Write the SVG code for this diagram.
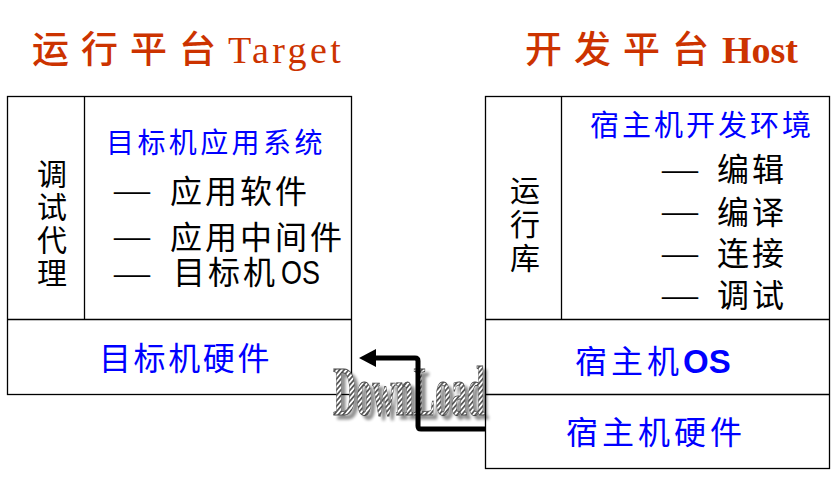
<svg xmlns="http://www.w3.org/2000/svg" width="834" height="488" viewBox="0 0 834 488">
<style>
.box{fill:none;stroke:#000;stroke-width:1.3}
.ttl{font-family:"Noto Sans CJK SC","Noto Sans",sans-serif;fill:#CC3300;font-weight:500}
.lat{font-family:"Liberation Serif",serif;fill:#CC3300}
.cjk{font-family:"Noto Sans CJK SC",sans-serif;fill:#000;font-size:32px;letter-spacing:3px}
.blue{font-family:"Noto Sans CJK SC",sans-serif;fill:#0000FF}
.dash{font-family:"Liberation Serif",serif;font-size:36px;fill:#000}
.vert{font-family:"Noto Sans CJK SC",sans-serif;font-size:30px;fill:#000;text-anchor:middle}
.conn{fill:none;stroke:#000;stroke-width:5;stroke-linejoin:round}
.dl{font-family:"Liberation Serif",serif;font-size:70px}
</style>
<defs>
<pattern id="hatch" patternUnits="userSpaceOnUse" width="3.5" height="3.5" patternTransform="rotate(40)">
<rect width="3.5" height="3.5" fill="#fff"/>
<rect width="1.7" height="3.5" fill="#555"/>
</pattern>
<filter id="shadow" x="-10%" y="-10%" width="125%" height="130%">
<feGaussianBlur in="SourceAlpha" stdDeviation="1.5" result="b"/>
<feOffset in="b" dx="4" dy="4" result="o"/>
<feComponentTransfer in="o" result="s"><feFuncA type="linear" slope="0.45"/></feComponentTransfer>
<feMerge><feMergeNode in="s"/><feMergeNode in="SourceGraphic"/></feMerge>
</filter>
<marker id="ah" markerUnits="userSpaceOnUse" markerWidth="18" markerHeight="18" refX="0" refY="9" orient="auto">
<path d="M0,0 L17,9 L0,18 z" fill="#000"/>
</marker>
</defs>
<g id="title-target">
<text y="63"><tspan class="ttl" x="32" font-size="37" letter-spacing="12">运行平台</tspan><tspan class="lat" x="228" font-size="38" letter-spacing="3.4">Target</tspan></text>
</g>
<g id="title-host">
<text y="63"><tspan class="ttl" x="525" font-size="37" letter-spacing="12">开发平台</tspan><tspan class="lat" x="722" font-size="38" font-weight="bold">Host</tspan></text>
</g>
<g id="target-box">
<rect class="box" x="7.5" y="96.5" width="344" height="298"/>
<line class="box" x1="84.5" y1="96.5" x2="84.5" y2="319.5"/>
<line class="box" x1="7.5" y1="319.5" x2="351.5" y2="319.5"/>
</g>
<g id="debug-agent">
<text class="vert" x="52" y="185">调</text>
<text class="vert" x="52" y="218">试</text>
<text class="vert" x="52" y="251">代</text>
<text class="vert" x="52" y="284">理</text>
</g>
<g id="target-app">
<text class="blue" x="106" y="153" font-size="28" letter-spacing="3.4">目标机应用系统</text>
<text><tspan class="dash" x="114" y="202">—</tspan><tspan class="cjk" x="170" y="203">应用软件</tspan></text>
<text><tspan class="dash" x="114" y="248">—</tspan><tspan class="cjk" x="170" y="249">应用中间件</tspan></text>
<text><tspan class="dash" x="114" y="285">—</tspan><tspan class="cjk" x="173" y="284" letter-spacing="4">目标机</tspan><tspan x="281" y="284" font-family="Liberation Sans,sans-serif" font-size="34" textLength="39" lengthAdjust="spacingAndGlyphs" fill="#000">OS</tspan></text>
</g>
<g id="target-hw">
<text class="blue" x="99" y="370" font-size="32" letter-spacing="2.6">目标机硬件</text>
</g>
<g id="host-box">
<rect class="box" x="485.5" y="96.5" width="344" height="372"/>
<line class="box" x1="561.5" y1="96.5" x2="561.5" y2="319.5"/>
<line class="box" x1="485.5" y1="319.5" x2="829.5" y2="319.5"/>
<line class="box" x1="485.5" y1="394.5" x2="829.5" y2="394.5"/>
</g>
<g id="runtime-lib">
<text class="vert" x="525" y="201">运</text>
<text class="vert" x="525" y="235">行</text>
<text class="vert" x="525" y="269">库</text>
</g>
<g id="host-dev">
<text class="blue" x="590" y="136" font-size="29" letter-spacing="3">宿主机开发环境</text>
<text><tspan class="dash" x="662" y="181">—</tspan><tspan class="cjk" x="717" y="181">编辑</tspan></text>
<text><tspan class="dash" x="662" y="223">—</tspan><tspan class="cjk" x="717" y="224">编译</tspan></text>
<text><tspan class="dash" x="662" y="265">—</tspan><tspan class="cjk" x="717" y="265">连接</tspan></text>
<text><tspan class="dash" x="662" y="307">—</tspan><tspan class="cjk" x="717" y="307">调试</tspan></text>
</g>
<g id="host-os">
<text x="575" y="373"><tspan class="blue" font-size="32" letter-spacing="4">宿主机</tspan><tspan x="683" font-family="Liberation Sans,sans-serif" font-weight="bold" font-size="33" fill="#0000FF">OS</tspan></text>
</g>
<g id="host-hw">
<text class="blue" x="566" y="444" font-size="32" letter-spacing="4">宿主机硬件</text>
</g>
<g id="download-label">
<text class="dl" x="333" y="415" textLength="152" lengthAdjust="spacingAndGlyphs" fill="url(#hatch)" stroke="#444" stroke-width="0.8" font-weight="bold" filter="url(#shadow)">DownLoad</text>
</g>
<g id="connectors">
<path class="conn" d="M485,429 L421,429 Q418,429 418,426 L418,361 Q418,358 415,358 L376,358" marker-end="url(#ah)"/>
</g>
</svg>
